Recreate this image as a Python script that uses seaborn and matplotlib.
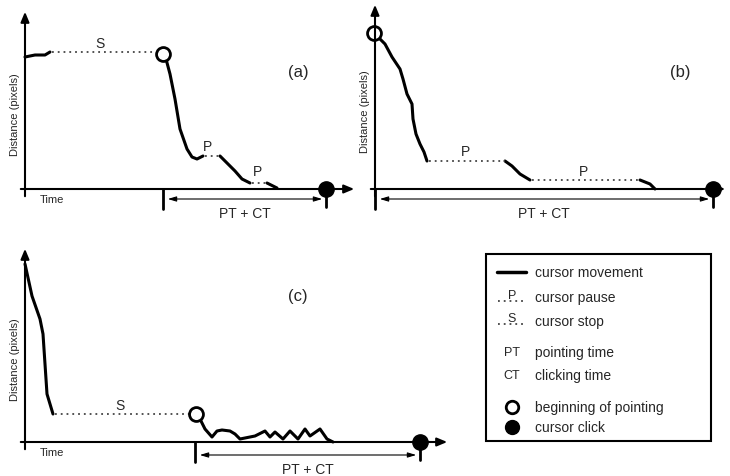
import matplotlib
matplotlib.use("Agg")
import matplotlib.pyplot as plt
import seaborn as sns
import pandas as pd

sns.set_style("white")
plt.rcParams['font.family'] = ['Liberation Sans', 'DejaVu Sans']

# Panel (a) curves (pixel coords)
a_move1_x = [25, 35, 45, 50]; a_move1_y = [58, 56, 56, 53]
a_stop_x = [52, 160]; a_stop_y = [53, 53]
a_move2_x = [166, 170, 175, 180, 187, 192, 197, 203]
a_move2_y = [60, 75, 100, 130, 150, 158, 160, 157]
a_pause1_x = [205, 220]; a_pause1_y = [157, 157]
a_move3_x = [220, 228, 235, 242, 250]; a_move3_y = [157, 165, 172, 180, 184]
a_pause2_x = [252, 266]; a_pause2_y = [184, 184]
a_move4_x = [267, 277]; a_move4_y = [184, 189]

# Panel (b)
b_move1_x = [377, 385, 392, 400, 403, 407, 412, 413, 416, 420, 424, 427]
b_move1_y = [37, 45, 58, 70, 80, 95, 105, 120, 135, 145, 153, 162]
b_pause1_x = [429, 505]; b_pause1_y = [162, 162]
b_move2_x = [505, 512, 520, 530]; b_move2_y = [162, 167, 175, 181]
b_pause2_x = [532, 640]; b_pause2_y = [181, 181]
b_move3_x = [640, 650, 655]; b_move3_y = [181, 185, 190]

# Panel (c)
c_move1_x = [25, 32, 40, 43, 47, 53]; c_move1_y = [265, 297, 320, 335, 395, 415]
c_stop_x = [55, 192]; c_stop_y = [415, 415]
c_move2_x = [199, 205, 212, 217, 222, 230, 235, 240, 255, 265, 270, 275, 283,
             290, 298, 305, 310, 320, 327, 333]
c_move2_y = [418, 430, 438, 432, 431, 432, 435, 440, 437, 432, 438, 433, 440,
             432, 440, 430, 437, 430, 440, 443]

fig = plt.figure(figsize=(7.3, 4.77), dpi=100)
ax = fig.add_axes([0, 0, 1, 1])
ax.set_xlim(0, 730); ax.set_ylim(477, 0); ax.axis("off")

def solid(x, y):
    sns.lineplot(x=x, y=y, sort=False, color="black", lw=2.2, ax=ax, estimator=None)

def dotted(x, y):
    ax.plot(x, y, color="#444", lw=1.3, ls=(0, (1, 2.2)))

arr = dict(arrowstyle="-|>,head_length=0.6,head_width=0.25", color="black", lw=1.5)
thin = dict(arrowstyle="<|-|>,head_length=0.5,head_width=0.15", color="black", lw=0.8)

def panel(ox, oy, ytop, xend, tick_x, click_x, arrow_y, label, lpos, time=True):
    ax.annotate("", xy=(ox, ytop), xytext=(ox, oy + 10), arrowprops=arr)
    ax.annotate("", xy=(xend, oy), xytext=(ox - 7, oy), arrowprops=arr)
    ax.plot([tick_x, tick_x], [oy, oy + 20], color="black", lw=2)
    ax.plot([click_x, click_x], [oy, oy + 18], color="black", lw=2)
    ax.plot([click_x], [oy], "o", color="black", ms=11)
    ax.annotate("", xy=(click_x - 1, arrow_y), xytext=(tick_x + 2, arrow_y), arrowprops=thin)
    ax.text((tick_x + click_x) / 2, arrow_y + 14, "PT + CT", ha="center", va="center", fontsize=10)
    ax.text(lpos[0], lpos[1], label, ha="center", va="center", fontsize=12)
    ax.text(ox - 10, (oy + ytop) / 2 + 15, "Distance (pixels)", rotation=90,
            ha="center", va="center", fontsize=8)
    if time:
        ax.text(40, oy + 10, "Time", ha="left", va="center", fontsize=8)

panel(25, 190, 10, 357, 163, 326, 200, "(a)", (298, 73))
panel(375, 190, 3, 728, 375, 713, 200, "(b)", (680, 73), time=False)
panel(25, 443, 247, 450, 195, 420, 456, "(c)", (298, 297))

for x, y in [(a_move1_x, a_move1_y), (a_move2_x, a_move2_y), (a_move3_x, a_move3_y),
             (a_move4_x, a_move4_y), (b_move1_x, b_move1_y), (b_move2_x, b_move2_y),
             (b_move3_x, b_move3_y), (c_move1_x, c_move1_y), (c_move2_x, c_move2_y)]:
    solid(x, y)
for x, y in [(a_stop_x, a_stop_y), (a_pause1_x, a_pause1_y), (a_pause2_x, a_pause2_y),
             (b_pause1_x, b_pause1_y), (b_pause2_x, b_pause2_y), (c_stop_x, c_stop_y)]:
    dotted(x, y)

for cx, cy in [(163, 55), (374, 34), (196, 415)]:
    ax.plot([cx], [cy], "o", mfc="white", mec="black", mew=2, ms=10)

for t, x, y in [("S", 100, 44), ("P", 208, 147), ("P", 258, 172), ("P", 465, 152),
                ("P", 583, 172), ("S", 120, 406)]:
    ax.text(x, y, t, ha="center", va="center", fontsize=10)

# Legend box
ax.add_patch(plt.Rectangle((486, 255), 225, 187, fill=False, ec="black", lw=1.5))
ax.plot([497, 526], [273, 273], color="black", lw=2.5)
dotted([498, 526], [302, 302]); ax.text(512, 296, "P", ha="center", va="center", fontsize=9)
dotted([498, 526], [325, 325]); ax.text(512, 319, "S", ha="center", va="center", fontsize=9)
ax.text(512, 353, "PT", ha="center", va="center", fontsize=9)
ax.text(512, 376, "CT", ha="center", va="center", fontsize=9)
ax.plot([512], [408], "o", mfc="white", mec="black", mew=2, ms=9)
ax.plot([512], [428], "o", color="black", ms=10)
for t, y in [("cursor movement", 273), ("cursor pause", 298), ("cursor stop", 322),
             ("pointing time", 353), ("clicking time", 376), ("beginning of pointing", 408),
             ("cursor click", 428)]:
    ax.text(535, y, t, ha="left", va="center", fontsize=10)

fig.savefig("out.png", dpi=100)
